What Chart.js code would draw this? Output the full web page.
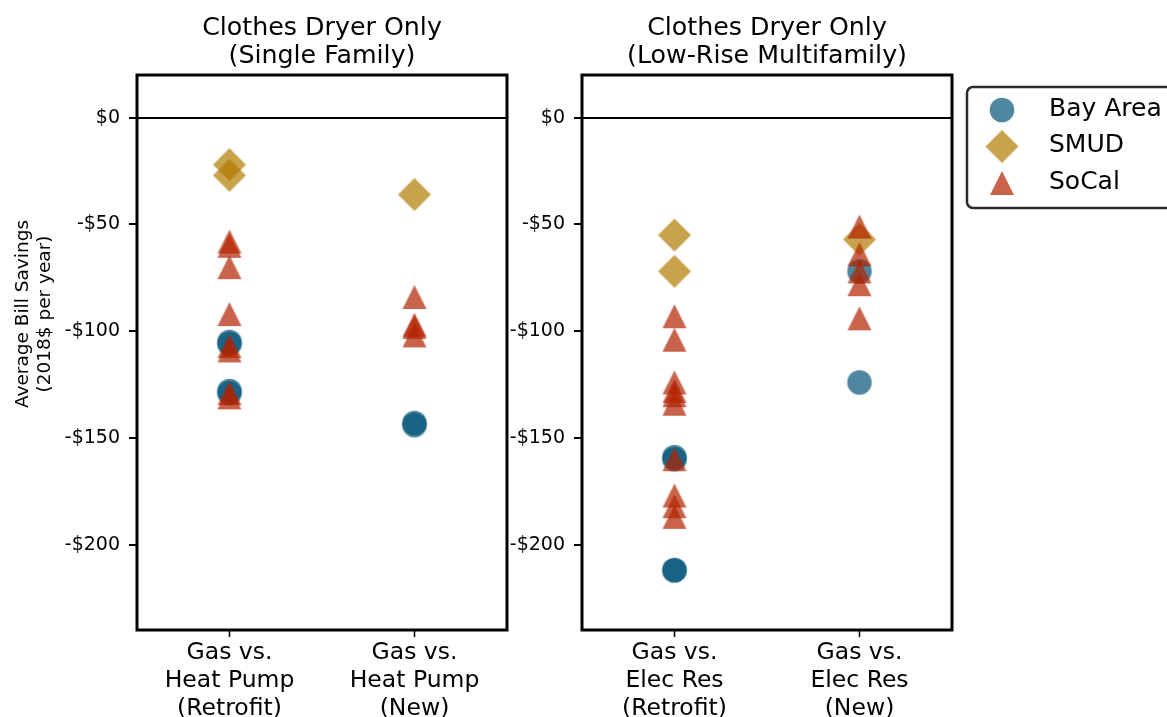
<!DOCTYPE html>
<html>
<head>
<meta charset="utf-8">
<title>Clothes Dryer Only</title>
<script src="https://cdn.jsdelivr.net/npm/chart.js@4.4.0/dist/chart.umd.min.js"></script>
<style>
    html, body { margin: 0; padding: 0; background: #fff; }
    body { width: 1167px; height: 717px; position: relative; overflow: hidden; }
    canvas { position: absolute; top: 0; }
    #sfChart { left: 0; }
    #mfChart { left: 490px; }
</style>
</head>
<body>
<canvas id="sfChart" width="520" height="717"></canvas>
<canvas id="mfChart" width="677" height="717"></canvas>
<script>
// regions (legend order) and the x categories of each panel
const regions = ["Bay Area", "SMUD", "SoCal"];
const sfTitle = ["Clothes Dryer Only", "(Single Family)"];
const mfTitle = ["Clothes Dryer Only", "(Low-Rise Multifamily)"];
const sfCategories = [["Gas vs.", "Heat Pump", "(Retrofit)"], ["Gas vs.", "Heat Pump", "(New)"]];
const mfCategories = [["Gas vs.", "Elec Res", "(Retrofit)"], ["Gas vs.", "Elec Res", "(New)"]];
const yTicks = [0, -50, -100, -150, -200];

// average bill savings ($/yr), one list per category: [retrofit, new]
const sfBayArea = [[-105, -106, -128, -129], [-143, -144]];
const sfSmud = [[-22, -27], [-36]];
const sfSoCal = [[-58, -60, -70, -92, -107, -109, -129, -131], [-84, -97, -98, -102]];

const mfBayArea = [[-159, -160, -212, -212], [-72, -124]];
const mfSmud = [[-55, -72], [-57]];
const mfSoCal = [[-93, -104, -124, -128, -130, -134, -160, -177, -182, -187], [-51, -64, -72, -78, -94]];

const regionColors = ["rgba(4, 84, 119, 0.7)", "rgba(176, 122, 0, 0.7)", "rgba(178, 34, 0, 0.7)"];
const regionShapes = ["circle", "diamond", "triangle"];

Chart.defaults.font.family = "'DejaVu Sans', sans-serif";
Chart.defaults.color = "#000";

// matplotlib-like markers (triangle centred on its box, not its circumcentre)
function makeMarker(shape, color) {
    const c = document.createElement("canvas");
    c.width = 36;
    c.height = 36;
    const g = c.getContext("2d");
    const m = 18;
    g.fillStyle = color;
    g.beginPath();
    if (shape === "circle") {
        g.arc(m, m, 12.3, 0, Math.PI * 2);
    } else if (shape === "diamond") {
        g.moveTo(m, m - 16.5);
        g.lineTo(m + 16.5, m);
        g.lineTo(m, m + 16.5);
        g.lineTo(m - 16.5, m);
    } else {
        g.moveTo(m, m - 12);
        g.lineTo(m + 12, m + 12);
        g.lineTo(m - 12, m + 12);
    }
    g.closePath();
    g.fill();
    return c;
}
const markers = regionShapes.map((s, i) => makeMarker(s, regionColors[i]));

function toPoints(values) {
    const pts = [];
    values.forEach((list, cat) => {
        list.forEach((v) => pts.push({ x: cat, y: v }));
    });
    return pts;
}

function moneyLabel(v) {
    return v === 0 ? "$0" : "-$" + Math.abs(v);
}

// box around the plot area
const framePlugin = {
    id: "frame",
    afterDatasetsDraw(chart) {
        const a = chart.chartArea;
        const ctx = chart.ctx;
        ctx.save();
        ctx.lineWidth = 3;
        ctx.strokeStyle = "#000";
        ctx.strokeRect(a.left, a.top, a.right - a.left, a.bottom - a.top);
        ctx.restore();
    },
};

// two-line rotated y axis title (left panel only)
const yTitlePlugin = {
    id: "yTitle",
    afterDraw(chart) {
        const ctx = chart.ctx;
        ctx.save();
        ctx.fillStyle = "#000";
        ctx.font = "18.5px 'DejaVu Sans'";
        ctx.textAlign = "center";
        ctx.textBaseline = "middle";
        [["Average Bill Savings", 23], ["(2018$ per year)", 45]].forEach(([txt, x]) => {
            ctx.save();
            ctx.translate(x, 314);
            ctx.rotate(-Math.PI / 2);
            ctx.fillText(txt, 0, 0);
            ctx.restore();
        });
        ctx.restore();
    },
};

// boxed legend to the right of the second panel
const legendPlugin = {
    id: "boxLegend",
    afterDraw(chart) {
        const ctx = chart.ctx;
        const x0 = 477, y0 = 87, w = 260, h = 121, r = 6;
        ctx.save();
        ctx.beginPath();
        ctx.moveTo(x0 + r, y0);
        ctx.arcTo(x0 + w, y0, x0 + w, y0 + h, r);
        ctx.arcTo(x0 + w, y0 + h, x0, y0 + h, r);
        ctx.arcTo(x0, y0 + h, x0, y0, r);
        ctx.arcTo(x0, y0, x0 + w, y0, r);
        ctx.closePath();
        ctx.fillStyle = "#fff";
        ctx.fill();
        ctx.lineWidth = 2.5;
        ctx.strokeStyle = "#2b2b2b";
        ctx.stroke();
        ctx.font = "25px 'DejaVu Sans'";
        ctx.textBaseline = "middle";
        ctx.fillStyle = "#000";
        regions.forEach((name, i) => {
            const cy = 110 + i * 36.5;
            ctx.drawImage(markers[i], 512 - 18, cy - 18);
            ctx.fillText(name, 559, cy - 1);
        });
        ctx.restore();
    },
};

function makeChart(id, title, categories, series, yWidth, padRight, extra) {
    return new Chart(document.getElementById(id), {
        type: "scatter",
        data: {
            datasets: regions.map((name, i) => ({
                label: name,
                data: toPoints(series[i]),
                pointStyle: markers[i],
                pointRadius: 12,
                backgroundColor: regionColors[i],
                borderColor: regionColors[i],
                order: 3 - i, // SoCal on top
            })),
        },
        options: {
            responsive: false,
            animation: false,
            layout: { padding: { left: 0, right: padRight, top: 0, bottom: 0 } },
            plugins: {
                legend: { display: false },
                tooltip: { enabled: false },
                title: {
                    display: true,
                    text: title,
                    fullSize: false,
                    color: "#000",
                    font: { size: 25.3, weight: "normal", lineHeight: 1.127 },
                    padding: { top: 14, bottom: 4 },
                },
            },
            scales: {
                x: {
                    type: "linear",
                    min: -0.5,
                    max: 1.5,
                    afterBuildTicks: (s) => { s.ticks = categories.map((c, i) => ({ value: i })); },
                    afterFit: (s) => { s.height = 87; },
                    border: { display: false },
                    grid: {
                        drawOnChartArea: false,
                        tickColor: "#000",
                        tickLength: 7,
                        tickWidth: 1.5,
                    },
                    ticks: {
                        color: "#000",
                        font: { size: 23.5, lineHeight: 1.19 },
                        padding: 2,
                        maxRotation: 0,
                        autoSkip: false,
                        callback: (v) => categories[v],
                    },
                },
                y: {
                    min: -240,
                    max: 20,
                    afterBuildTicks: (s) => { s.ticks = yTicks.map((v) => ({ value: v })); },
                    afterFit: (s) => { s.width = yWidth; },
                    border: { display: false },
                    grid: {
                        // only the $0 reference line is drawn across the panel
                        color: (c) => (c.tick && c.tick.value === 0 ? "#000" : "rgba(0,0,0,0)"),
                        lineWidth: 2,
                        tickColor: "#000",
                        tickLength: 8,
                        tickWidth: 2,
                    },
                    ticks: {
                        color: "#000",
                        font: { size: 19 },
                        padding: 9,
                        callback: (v) => moneyLabel(v),
                    },
                },
            },
        },
        plugins: [framePlugin].concat(extra),
    });
}

makeChart("sfChart", sfTitle, sfCategories, [sfBayArea, sfSmud, sfSoCal], 137, 13, [yTitlePlugin]);
makeChart("mfChart", mfTitle, mfCategories, [mfBayArea, mfSmud, mfSoCal], 92, 215, [legendPlugin]);
</script>
</body>
</html>
